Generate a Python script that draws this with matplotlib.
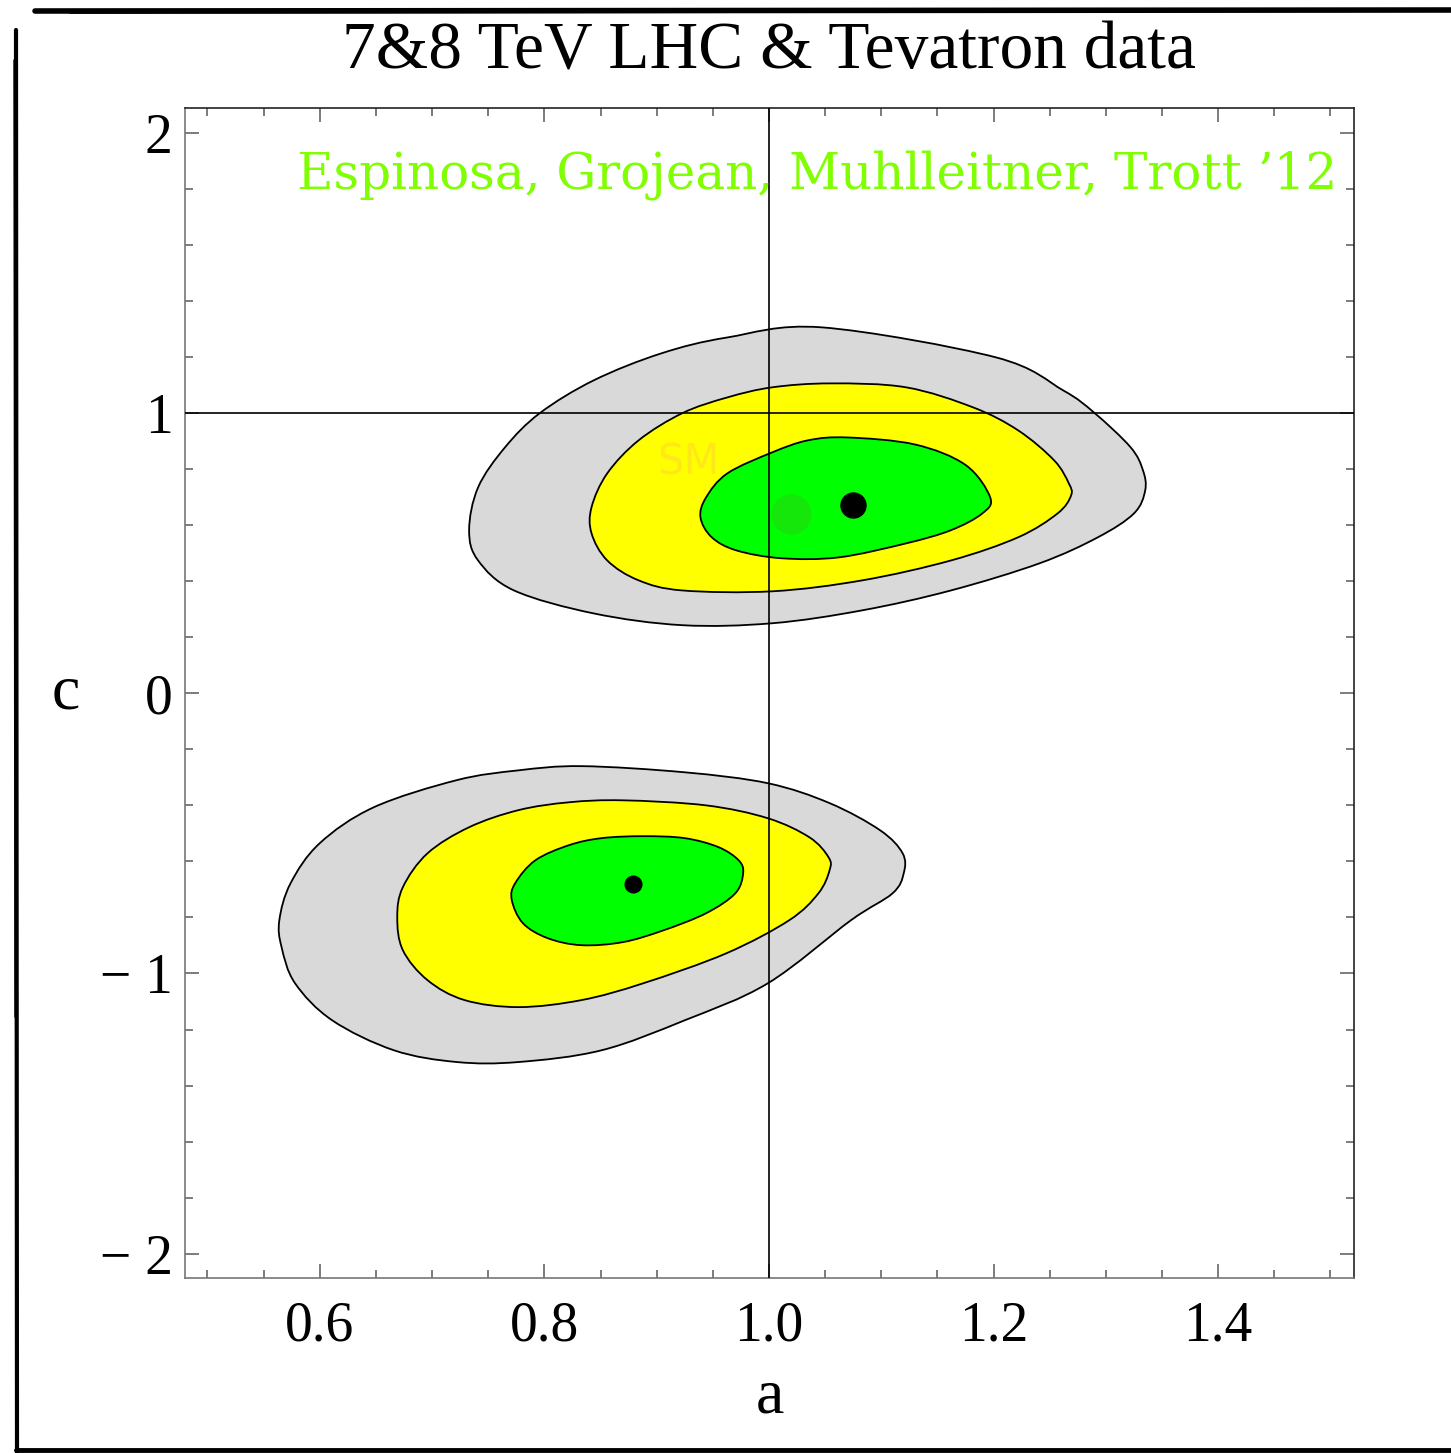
import numpy as np
import matplotlib
matplotlib.use("Agg")
import matplotlib.pyplot as plt
from matplotlib.path import Path
from matplotlib.patches import PathPatch
from matplotlib.lines import Line2D
from matplotlib.ticker import MultipleLocator

# contour outlines, (a, c) pairs
upper_95_a = [1.047, 1.202, 1.262, 1.290, 1.322, 1.333, 1.335, 1.325, 1.293, 1.241, 1.162, 1.083,
              1.003, 0.923, 0.844, 0.773, 0.741, 0.733, 0.741, 0.765, 0.796, 0.844, 0.904, 0.963]
upper_95_c = [1.306, 1.199, 1.081, 1.000, 0.878, 0.796, 0.724, 0.642, 0.557, 0.464, 0.367, 0.296,
              0.250, 0.243, 0.285, 0.367, 0.474, 0.582, 0.735, 0.878, 1.000, 1.117, 1.213, 1.270]
upper_68_a = [1.055, 1.122, 1.182, 1.222, 1.254, 1.267, 1.269, 1.257, 1.222, 1.162, 1.083, 1.003,
              0.923, 0.884, 0.856, 0.842, 0.842, 0.856, 0.884, 0.923, 0.963, 1.003]
upper_68_c = [1.106, 1.092, 1.020, 0.938, 0.831, 0.749, 0.706, 0.642, 0.557, 0.474, 0.403, 0.364,
              0.367, 0.403, 0.474, 0.571, 0.664, 0.785, 0.903, 1.000, 1.056, 1.092]
upper_1s_a = [1.070, 1.130, 1.175, 1.197, 1.190, 1.162, 1.122, 1.062, 1.011, 0.971, 0.949,
              0.939, 0.944, 0.963, 1.003, 1.035]
upper_1s_c = [0.913, 0.888, 0.815, 0.699, 0.642, 0.582, 0.535, 0.485, 0.482, 0.510, 0.557,
              0.628, 0.699, 0.785, 0.860, 0.903]

lower_95_a = [0.833, 0.925, 0.999, 1.054, 1.099, 1.119, 1.120, 1.110, 1.073, 0.999, 0.925,
              0.851, 0.777, 0.722, 0.666, 0.611, 0.578, 0.566, 0.564, 0.574, 0.600, 0.648, 0.722, 0.777]
lower_95_c = [-0.260, -0.282, -0.321, -0.392, -0.489, -0.571, -0.642, -0.714, -0.810, -1.035,
              -1.167, -1.274, -1.316, -1.316, -1.274, -1.167, -1.035, -0.906, -0.810, -0.678, -0.535,
              -0.407, -0.310, -0.275]
lower_68_a = [0.870, 0.944, 0.999, 1.036, 1.053, 1.054, 1.044, 1.018, 0.962, 0.888, 0.833, 0.777,
              0.729, 0.696, 0.674, 0.669, 0.674, 0.696, 0.733, 0.777, 0.822]
lower_68_c = [-0.382, -0.400, -0.446, -0.514, -0.585, -0.631, -0.714, -0.810, -0.928, -1.035, -1.095,
              -1.120, -1.095, -1.024, -0.917, -0.799, -0.692, -0.571, -0.478, -0.417, -0.389]
lower_1s_a = [0.888, 0.925, 0.955, 0.973, 0.977, 0.970, 0.944, 0.906, 0.870, 0.833, 0.803, 0.781,
              0.771, 0.774, 0.792, 0.822, 0.851]
lower_1s_c = [-0.510, -0.517, -0.549, -0.596, -0.642, -0.714, -0.785, -0.846, -0.888, -0.899, -0.874,
              -0.821, -0.738, -0.678, -0.596, -0.542, -0.517]

best_a = [1.075, 0.879]
best_c = [0.671, -0.681]
best_size = [18, 12]

sm_a, sm_c = 1.02, 0.64   # faint SM point

xticks = [0.6, 0.8, 1.0, 1.2, 1.4]
yticks = [-2, -1, 0, 1, 2]

GRAY, YELLOW, GREEN = "#D9D9D9", "#FFFF00", "#00FF00"
SERIF = ["Liberation Serif", "DejaVu Serif"]


def smooth_closed(xs, ys):
    # closed Catmull-Rom through the read points, drawn as cubic beziers
    p = np.column_stack([xs, ys])
    n = len(p)
    verts = [p[0]]
    codes = [Path.MOVETO]
    for i in range(n):
        p0, p1, p2, p3 = p[i - 1], p[i], p[(i + 1) % n], p[(i + 2) % n]
        verts += [p1 + (p2 - p0) / 6, p2 - (p3 - p1) / 6, p2]
        codes += [Path.CURVE4] * 3
    return Path(verts, codes)


fig = plt.figure(figsize=(14.51, 14.53), dpi=100)
ax = fig.add_axes([0.1275, 0.1204, 0.8057, 0.8053])

for xs, ys, col in [(upper_95_a, upper_95_c, GRAY), (upper_68_a, upper_68_c, YELLOW),
                    (upper_1s_a, upper_1s_c, GREEN), (lower_95_a, lower_95_c, GRAY),
                    (lower_68_a, lower_68_c, YELLOW), (lower_1s_a, lower_1s_c, GREEN)]:
    ax.add_patch(PathPatch(smooth_closed(xs, ys), facecolor=col, edgecolor="black",
                           lw=1.3, zorder=2))

ax.text(0.928, 0.825, "SM", color="#FFE81A", fontsize=30, ha="center", va="center",
        family="DejaVu Sans Condensed", zorder=3)
ax.plot(sm_a, sm_c, "o", color="#20DD10", ms=29, mec="none", alpha=0.7, zorder=3)

ax.axvline(1.0, color="black", lw=1.2, zorder=4)
ax.axhline(1.0, color="black", lw=1.2, zorder=4)

for a, c, s in zip(best_a, best_c, best_size):
    ax.plot(a, c, "o", color="black", ms=s, zorder=5)

ax.text(0.986, 0.943, "Espinosa, Grojean, Muhlleitner, Trott \u201912",
        transform=ax.transAxes, ha="right", va="center", color="#7FFF00",
        fontsize=36, family="DejaVu Serif", zorder=6)

ax.set_xlim(0.48, 1.521)
ax.set_ylim(-2.087, 2.089)
ax.set_xticks(xticks)
ax.set_xticklabels([f"{v:.1f}" for v in xticks])
ax.set_yticks(yticks)
ax.set_yticklabels([str(v).replace("-", "\u2212 ") for v in yticks])
ax.xaxis.set_minor_locator(MultipleLocator(0.05))
ax.yaxis.set_minor_locator(MultipleLocator(0.2))
ax.tick_params(which="both", direction="in", top=True, right=True, color="#666666", width=1.2)
ax.tick_params(which="major", length=10)
ax.tick_params(which="minor", length=6)
ax.tick_params(axis="x", which="major", pad=16, labelsize=40)
ax.tick_params(axis="y", which="major", pad=9, labelsize=40)
for lab in ax.get_xticklabels() + ax.get_yticklabels():
    lab.set_family(SERIF)
for side in ["left", "bottom"]:
    ax.spines[side].set_color("#777777")
for side in ["top", "right"]:
    ax.spines[side].set_color("#222222")
for sp in ax.spines.values():
    sp.set_linewidth(1.2)

ax.set_xlabel("a", family=SERIF, fontsize=46, labelpad=12)
ax.set_ylabel("c", family=SERIF, fontsize=46, rotation=0, labelpad=24, va="center")

fig.text(769 / 1451, 1 - 52 / 1453, "7&8 TeV LHC & Tevatron data", family=SERIF,
         fontsize=48.5, ha="center", va="center")

# sketchy frame round the figure
for xs, ys, lw in [([35 / 1451, 1.0], [1 - 11 / 1453, 1 - 10 / 1453], 4.0),
                   ([70 / 1451, 0.6], [1 - 13 / 1453, 1 - 12 / 1453], 1.2),
                   ([16 / 1451, 17 / 1451], [1 - 30 / 1453, 0.0], 3.0),
                   ([14 / 1451, 15 / 1451], [1 - 60 / 1453, 0.3], 1.0),
                   ([16 / 1451, 1.0], [1 - 1450 / 1453, 1 - 1450 / 1453], 3.5)]:
    fig.add_artist(Line2D(xs, ys, transform=fig.transFigure, color="black", lw=lw,
                          solid_capstyle="round"))

fig.savefig("out.png", dpi=100)
